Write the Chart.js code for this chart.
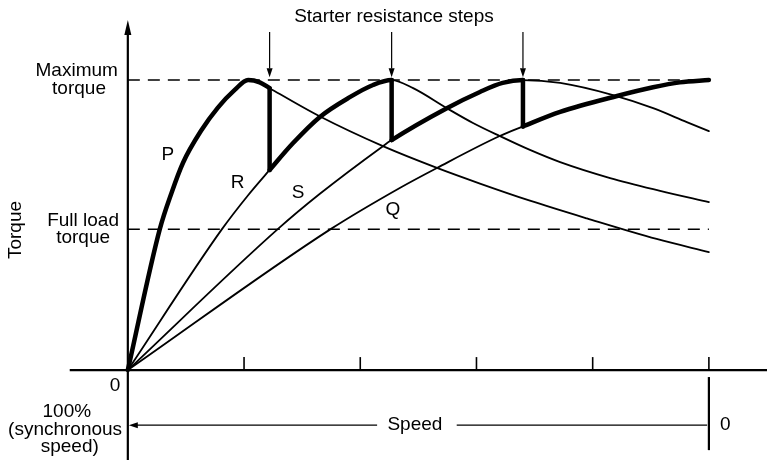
<!DOCTYPE html>
<html>
<head>
<meta charset="utf-8">
<title>Starter resistance steps</title>
<script src="https://cdn.jsdelivr.net/npm/chart.js@4.4.1/dist/chart.umd.min.js"></script>
<style>
  body { margin: 0; background: #fff; }
  #wrap { width: 767px; height: 460px; }
</style>
</head>
<body>
<div id="wrap"><canvas id="torqueChart"></canvas></div>
<script>
// x = slip in % (0 = synchronous speed, 100 = standstill), y = torque in % of maximum
const curveP = [[0, 0], [5.5, 48.6], [7.5, 61], [9.5, 71.5], [12.6, 82.5], [15.5, 90.5], [18.4, 96.6], [20.7, 100], [22.7, 99.2], [24.4, 97.2],
  [33, 87.5], [43.9, 77.2], [53.2, 69.7], [60.6, 64.3], [69.2, 58.4], [79, 52.3], [91, 45.2], [100, 40.7]];
const curveR = [[0, 0], [16.2, 48.6], [20.7, 60.3], [24.4, 69], [28.4, 78.2], [33, 87.2], [38.2, 94.1], [42.2, 98.3], [45.4, 100],
  [49.1, 97.2], [54.9, 90.3], [59.4, 85.2], [64, 80.7], [69.2, 75.9], [74.4, 71.7], [83, 66.2], [91.6, 61.8], [100, 57.9]];
const curveS = [[0, 0], [25.8, 48.6], [33, 60.7], [43.9, 77.2], [45.4, 79.3], [54.9, 90.3], [60.6, 95.9], [64.5, 99], [68, 100],
  [74.4, 99], [83.5, 94.8], [90.4, 90.3], [96.2, 85.5], [100, 82.4]];
const curveQ = [[0, 0], [34.9, 48.6], [46.8, 62.8], [53.2, 69.7], [64, 80.7], [68, 84], [74.4, 89], [84.2, 94.5], [90.4, 97.5], [95, 99.2], [100, 100]];

const curveNames = ['P', 'R', 'S', 'Q'];
const stepSlip = [24.4, 45.4, 68];        // where the starter switches to the next curve
const maxTorque = 100;
const fullLoadTorque = 48.6;
const tickSlip = [20, 40, 60, 80, 100];

const THICK = 4.5;
const THIN = 1.8;
const FONT = '19px "Liberation Sans", Arial, Helvetica, sans-serif';

const curves = [curveP, curveR, curveS, curveQ];
// slip range along which each curve is the running (thick) path
const runRange = [[0, stepSlip[0]], [stepSlip[0], stepSlip[1]], [stepSlip[1], stepSlip[2]], [stepSlip[2], 100]];

function toPoints(arr) {
  return arr.map(p => ({ x: p[0], y: p[1] }));
}

function valueAt(arr, s) {
  const p = arr.find(q => q[0] === s);
  return p ? p[1] : null;
}

const datasets = curves.map((c, i) => ({
  label: curveNames[i],
  data: toPoints(c),
  borderColor: '#000',
  borderWidth: THIN,
  borderCapStyle: 'round',
  borderJoinStyle: 'round',
  pointRadius: 0,
  cubicInterpolationMode: 'monotone',
  segment: {
    borderWidth: ctx => (ctx.p0.parsed.x >= runRange[i][0] - 1e-6 && ctx.p1.parsed.x <= runRange[i][1] + 1e-6) ? THICK : THIN
  }
}));

// vertical drops from one curve to the next at each resistance step
stepSlip.forEach((s, i) => {
  datasets.push({
    label: 'step ' + (i + 1),
    data: [{ x: s, y: valueAt(curves[i], s) }, { x: s, y: valueAt(curves[i + 1], s) }],
    borderColor: '#000',
    borderWidth: THICK,
    borderCapStyle: 'round',
    pointRadius: 0
  });
});

function arrowHead(ctx, tipX, tipY, dirX, dirY, len, half) {
  const bx = tipX - dirX * len, by = tipY - dirY * len;
  ctx.beginPath();
  ctx.moveTo(tipX, tipY);
  ctx.lineTo(bx - dirY * half, by + dirX * half);
  ctx.lineTo(bx + dirY * half, by - dirX * half);
  ctx.closePath();
  ctx.fill();
}

function seg(ctx, x1, y1, x2, y2) {
  ctx.beginPath();
  ctx.moveTo(x1, y1);
  ctx.lineTo(x2, y2);
  ctx.stroke();
}

const diagram = {
  id: 'diagram',
  beforeDatasetsDraw(chart) {
    const { ctx, scales: { x, y } } = chart;
    const px = v => x.getPixelForValue(v);
    const py = v => y.getPixelForValue(v);
    ctx.save();
    ctx.strokeStyle = '#000';
    ctx.fillStyle = '#000';

    // max / full load torque
    ctx.setLineDash([12, 8]);
    ctx.lineWidth = 1.5;
    [maxTorque, fullLoadTorque].forEach(t => seg(ctx, px(0), py(t), px(100), py(t)));
    ctx.setLineDash([]);

    // torque axis with arrow
    ctx.lineWidth = 2.2;
    seg(ctx, px(0), py(y.min), px(0), py(116));
    arrowHead(ctx, px(0), py(120.7), 0, -1, 15, 3.5);

    // slip axis and ticks
    seg(ctx, px(-10), py(0), px(x.max), py(0));
    ctx.lineWidth = 1.6;
    tickSlip.forEach(s => seg(ctx, px(s), py(0), px(s), py(0) - 13));

    // standstill marker under the axis
    ctx.lineWidth = 2.2;
    seg(ctx, px(100), py(-2.4), px(100), py(-27.6));

    // speed arrow
    ctx.lineWidth = 1.3;
    seg(ctx, px(0) + 6, py(-19), px(42.9), py(-19));
    seg(ctx, px(56.6), py(-19), px(99.7), py(-19));
    arrowHead(ctx, px(0) + 1, py(-19), -1, 0, 9, 3);

    // starter step arrows
    ctx.lineWidth = 1.2;
    stepSlip.forEach(s => {
      seg(ctx, px(s), py(116.6), px(s), py(104));
      arrowHead(ctx, px(s), py(101), 0, 1, 9, 3);
    });
    ctx.restore();
  },
  afterDraw(chart) {
    const { ctx, scales: { x, y } } = chart;
    const px = v => x.getPixelForValue(v);
    const py = v => y.getPixelForValue(v);
    ctx.save();
    ctx.fillStyle = '#000';
    ctx.font = FONT;
    ctx.textAlign = 'center';
    ctx.textBaseline = 'middle';
    const text = (t, s, v) => ctx.fillText(t, px(s), py(v));

    text('Starter resistance steps', 45.8, 121.7);
    text('Maximum', -8.8, 103.1);
    text('torque', -8.4, 96.9);
    text('Full load', -7.7, 51.4);
    text('torque', -7.7, 45.5);
    text('0', -2.2, -5.5);
    text('100%', -10.5, -14.5);
    text('(synchronous', -10.8, -20.7);
    text('speed)', -10, -26.6);
    text('Speed', 49.4, -19);
    text('0', 102.8, -19);

    // curve labels
    text('P', 6.9, 74.1);
    text('R', 18.9, 64.5);
    text('S', 29.3, 61.0);
    text('Q', 45.6, 55.2);

    ctx.translate(px(-19.3), py(48.3));
    ctx.rotate(-Math.PI / 2);
    ctx.fillText('Torque', 0, 0);
    ctx.restore();
  }
};

new Chart(document.getElementById('torqueChart'), {
  type: 'line',
  data: { datasets },
  options: {
    responsive: true,
    maintainAspectRatio: false,
    animation: false,
    layout: { padding: 0 },
    plugins: {
      legend: { display: false },
      tooltip: { enabled: false }
    },
    scales: {
      x: { type: 'linear', min: -22, max: 110, display: false },
      y: { type: 'linear', min: -31, max: 127.6, display: false }
    }
  },
  plugins: [diagram]
});
</script>
</body>
</html>
